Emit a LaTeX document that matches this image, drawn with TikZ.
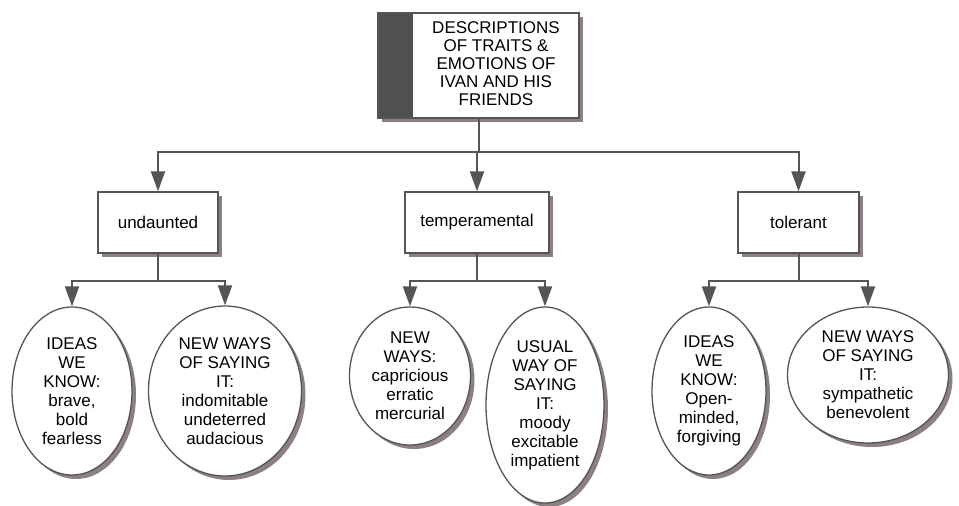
\documentclass[tikz,border=0pt]{standalone}
\usepackage{fontspec}
\setmainfont{Liberation Sans}
\usetikzlibrary{shapes.geometric}
\usetikzlibrary{shadows}
\usetikzlibrary{arrows.meta}
\definecolor{linegray}{RGB}{85,85,85}
\definecolor{stripgray}{RGB}{80,80,80}
\definecolor{shadowgray}{RGB}{140,128,128}

\tikzset{
  boxshadow/.style={drop shadow={shadow xshift=4pt, shadow yshift=-4pt, fill=shadowgray, opacity=1}},
  trait/.style={rectangle, draw=linegray, line width=1.3pt, fill=white, boxshadow, minimum height=61pt, inner sep=0pt},
  idea/.style={ellipse, draw=linegray, line width=1.3pt, fill=white, boxshadow, align=center, inner sep=0pt},
  link/.style={draw=linegray, line width=2pt, -{Triangle[width=14pt,length=20pt]}},
}

\begin{document}
\begin{tikzpicture}[x=1pt,y=-1pt,font=\fontsize{17}{19}\selectfont]
\useasboundingbox (0,0) rectangle (959,506);

%%Title
\node[trait, minimum width=201pt, minimum height=105pt,
  path picture={\fill[stripgray] (path picture bounding box.north west) rectangle ([xshift=35pt]path picture bounding box.south west);}]
  (title) at (478.5,65.5) {\fontsize{17}{18}\selectfont\hspace*{35pt}\begin{tabular}{@{}c@{}}DESCRIPTIONS\\OF TRAITS \&\\EMOTIONS OF\\IVAN AND HIS\\FRIENDS\end{tabular}};

%%Traits
\node[trait, minimum width=120pt] (undaunted) at (158,222.5) {undaunted};
\node[trait, minimum width=144pt] (temperamental) at (477,222.5) {temperamental};
\node[trait, minimum width=121pt] (tolerant) at (798.5,222.5) {tolerant};

%%Ideas under undaunted
\node[idea, minimum width=120pt, minimum height=168pt] (knowbrave) at (72,391) {IDEAS\\WE\\KNOW:\\brave,\\bold\\fearless};
\node[idea, minimum width=153pt, minimum height=170pt] (newbrave) at (225,391) {NEW WAYS\\OF SAYING\\IT:\\indomitable\\undeterred\\audacious};

%%Ideas under temperamental
\node[idea, minimum width=121pt, minimum height=138pt] (newmood) at (410,376) {NEW\\WAYS:\\capricious\\erratic\\mercurial};
\node[idea, minimum width=118pt, minimum height=196pt] (usualmood) at (545,405) {USUAL\\WAY OF\\SAYING\\IT:\\moody\\excitable\\impatient};

%%Ideas under tolerant
\node[idea, minimum width=114pt, minimum height=168pt] (knowopen) at (709,391) {IDEAS\\WE\\KNOW:\\Open-\\minded,\\forgiving};
\node[idea, minimum width=161pt, minimum height=136pt] (newkind) at (868,375) {NEW WAYS\\OF SAYING\\IT:\\sympathetic\\benevolent};

%%Links
\coordinate (bus) at (478.5,152);
\draw[draw=linegray, line width=2pt] (title.south) -- (bus);
\draw[link] (bus) -| (undaunted.north);
\draw[link] (bus) -| (temperamental.north);
\draw[link] (bus) -| (tolerant.north);

\draw[link] (undaunted.south) -- ++(0,27) -| (knowbrave.north);
\draw[link] (undaunted.south) -- ++(0,27) -| (newbrave.north);
\draw[link] (temperamental.south) -- ++(0,27) -| (newmood.north);
\draw[link] (temperamental.south) -- ++(0,27) -| (usualmood.north);
\draw[link] (tolerant.south) -- ++(0,27) -| (knowopen.north);
\draw[link] (tolerant.south) -- ++(0,27) -| (newkind.north);

\end{tikzpicture}
\end{document}
